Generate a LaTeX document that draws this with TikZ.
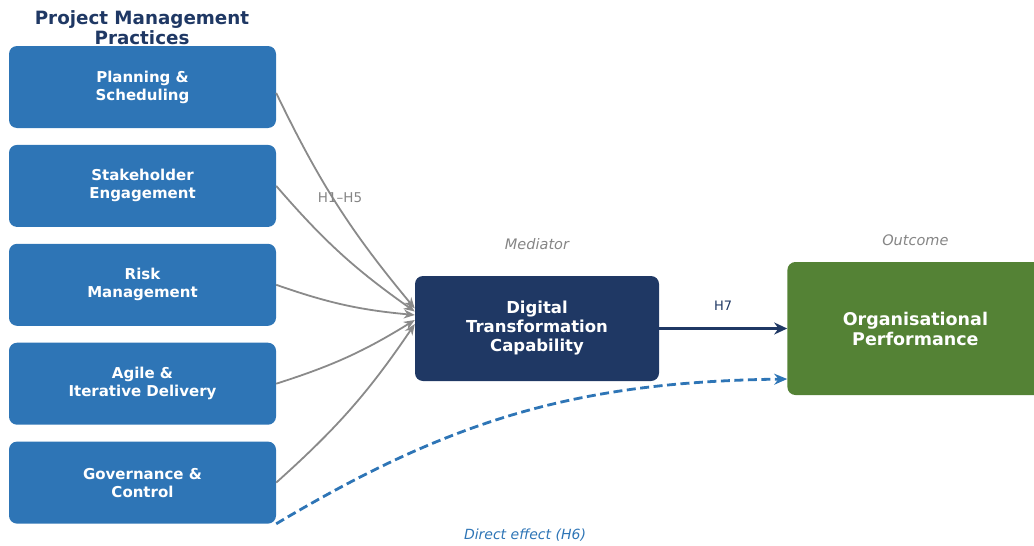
\documentclass[tikz,border=0pt]{standalone}
\usepackage{fontspec}
\setmainfont{DejaVu Sans}
\usetikzlibrary{positioning, arrows.meta}
\definecolor{practice}{HTML}{2E75B6}
\definecolor{mediator}{HTML}{1F3864}
\definecolor{outcome}{HTML}{548235}
\definecolor{link}{HTML}{8A8A8A}
\definecolor{note}{HTML}{858585}

\begin{document}
\begin{tikzpicture}[
    x=1pt, y=-1pt,
    node distance=16.5pt,
    practicebox/.style={rectangle, rounded corners=8pt, fill=practice,
        text=white, align=center, minimum width=267pt, minimum height=82pt,
        font=\bfseries\fontsize{15}{18}\selectfont},
    arrow/.style={-{Stealth[length=11pt, width=9pt]}, line width=1.8pt, color=link},
    caption/.style={font=\itshape\fontsize{14.5}{16}\selectfont, text=note},
]
\clip (0,0) rectangle (1034,546);

% title
\node[font=\bfseries\fontsize{18.3}{20}\selectfont, text=mediator, align=center]
    (title) at (142,28) {Project Management\\Practices};

% practices (stacked top to bottom)
\node[practicebox] (P1) at (142.5,87) {Planning \&\\Scheduling};
\node[practicebox, below=of P1] (P2) {Stakeholder\\Engagement};
\node[practicebox, below=of P2] (P3) {Risk\\Management};
\node[practicebox, below=of P3] (P4) {Agile \&\\Iterative Delivery};
\node[practicebox, below=of P4] (P5) {Governance \&\\Control};

% mediator and outcome
\node[rectangle, rounded corners=8pt, fill=mediator, text=white, align=center,
      minimum width=244pt, minimum height=105pt,
      font=\bfseries\fontsize{16.5}{19}\selectfont] (M) at (537,328.5)
      {Digital\\Transformation\\Capability};
\node[rectangle, rounded corners=8pt, fill=outcome, text=white, align=center,
      minimum width=256pt, minimum height=133pt, anchor=west,
      font=\bfseries\fontsize{17.5}{20}\selectfont, right=128pt of M] (O)
      {Organisational\\Performance};

\node[caption, above=23pt of M] (Mlab) {Mediator};
\node[caption, above=13pt of O.north] (Olab) {Outcome};

% hypotheses H1--H5 (practices to mediator)
\draw[arrow, bend right=7] (P1.east) ++(0,6) to ([yshift=20pt]M.west);
\draw[arrow, bend right=7] (P2.east) to ([yshift=17pt]M.west);
\draw[arrow, bend right=7] (P3.east) to ([yshift=13.5pt]M.west);
\draw[arrow, bend right=7] (P4.east) to ([yshift=8.5pt]M.west);
\draw[arrow, bend right=7] (P5.east) to ([yshift=4.5pt]M.west);
\node[font=\fontsize{13.5}{15}\selectfont, text=note] (H15) at (340,198) {H1--H5};

% mediator to outcome (H7)
\draw[-{Stealth[length=13pt, width=12pt]}, line width=3pt, color=mediator]
    (M.east) -- node[above=13pt, font=\fontsize{13}{15}\selectfont] (H7) {H7} (O.west |- M.east);

% direct effect (H6)
\draw[-{Stealth[length=13pt, width=11pt]}, line width=2.8pt, color=practice,
      dash pattern=on 9pt off 4.5pt, bend left=15]
    (P5.south east) to ([yshift=-50.5pt]O.west);
\node[font=\itshape\fontsize{14}{15}\selectfont, text=practice] (H6) at (525,535)
    {Direct effect (H6)};

\end{tikzpicture}
\end{document}
